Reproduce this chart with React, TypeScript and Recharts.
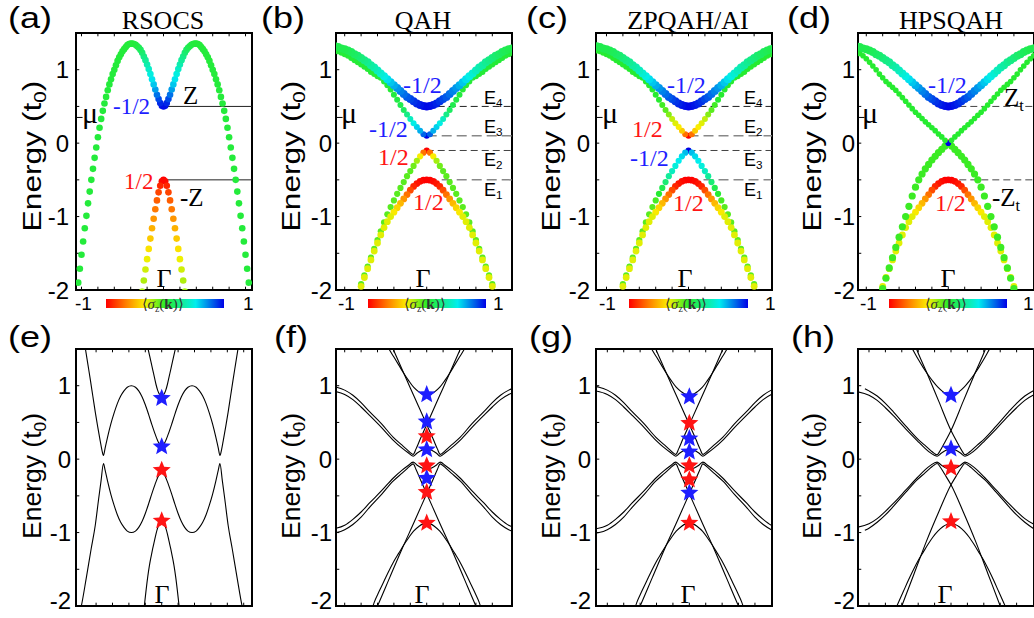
import { ComposedChart, Scatter, Line, XAxis, YAxis, ReferenceLine, ReferenceArea } from 'recharts'

// ---------- top row: spin-textured bands (dots), k grid from Gamma outwards ----------
const kA = [0, 0.02, 0.04, 0.06, 0.08, 0.1, 0.12, 0.14, 0.16, 0.18, 0.2, 0.22, 0.24, 0.26, 0.28, 0.3, 0.32, 0.34, 0.36, 0.38, 0.4, 0.42, 0.44, 0.46, 0.48, 0.5, 0.52, 0.54, 0.56, 0.58, 0.6, 0.62, 0.64, 0.66, 0.68, 0.7, 0.72, 0.74, 0.76, 0.78, 0.8, 0.82, 0.84, 0.86, 0.88, 0.9, 0.92, 0.94, 0.96, 0.98, 1, 1.02, 1.04, 1.06]
const kB = [0, 0.04, 0.08, 0.12, 0.16, 0.2, 0.24, 0.28, 0.32, 0.36, 0.4, 0.44, 0.48, 0.52, 0.56, 0.6, 0.64, 0.68, 0.72, 0.76, 0.8, 0.84, 0.88, 0.92, 0.96, 1, 1.04, 1.08, 1.12]

// (a) RSOCS
const aOuterE = [0.5, 0.51, 0.545, 0.6, 0.66, 0.73, 0.8, 0.87, 0.94, 1.01, 1.07, 1.13, 1.18, 1.23, 1.27, 1.3, 1.32, 1.34, 1.35, 1.355, 1.355, 1.35, 1.335, 1.31, 1.28, 1.25, 1.21, 1.17, 1.12, 1.06, 1.0, 0.94, 0.87, 0.8, 0.72, 0.63, 0.54, 0.44, 0.33, 0.21, 0.08, -0.06, -0.2, -0.35, -0.5, -0.66, -0.82, -0.99, -1.16, -1.34, -1.52, -1.71, -1.9, -2.1]
const aOuterS = [1, 0.97, 0.92, 0.85, 0.77, 0.68, 0.6, 0.54, 0.48, 0.42, 0.36, 0.3, 0.25, 0.2, 0.16, 0.13, 0.1, 0.08, 0.07, 0.06, 0.05]
const aInnerE = [-0.5, -0.52, -0.58, -0.67, -0.78, -0.9, -1.03, -1.16, -1.3, -1.44, -1.58, -1.72, -1.87, -2.02]
const aInnerS = [-1, -0.98, -0.9, -0.82, -0.75, -0.68, -0.6, -0.52, -0.45, -0.38, -0.32, -0.27, -0.22, -0.2]

// (b)(c)(d) shared band shapes
const u1E = [0.5, 0.505, 0.52, 0.54, 0.57, 0.6, 0.63, 0.67, 0.71, 0.75, 0.79, 0.83, 0.87, 0.91, 0.95, 0.99, 1.03, 1.06, 1.1, 1.13, 1.16, 1.19, 1.21, 1.24, 1.26, 1.28, 1.29, 1.31, 1.32]
const u1S = [1, 0.98, 0.96, 0.93, 0.9, 0.86, 0.82, 0.78, 0.74, 0.7, 0.65, 0.6, 0.55, 0.5, 0.45, 0.4, 0.36, 0.32, 0.28, 0.25, 0.22, 0.19, 0.16, 0.14, 0.12, 0.1]
const u2E = [0.1, 0.12, 0.17, 0.22, 0.27, 0.33, 0.39, 0.45, 0.52, 0.59, 0.66, 0.73, 0.79, 0.84, 0.89, 0.91, 0.94, 0.97, 1.01, 1.04, 1.07, 1.1, 1.13, 1.16, 1.19, 1.21, 1.23, 1.25, 1.26]
const l2E = [-0.1, -0.13, -0.18, -0.24, -0.31, -0.38, -0.45, -0.53, -0.61, -0.69, -0.78, -0.87, -0.97, -1.08, -1.2, -1.32, -1.44, -1.56, -1.68, -1.8, -1.92, -2.04]
const l1E = [-0.5, -0.505, -0.52, -0.55, -0.59, -0.64, -0.7, -0.76, -0.82, -0.88, -0.94, -1.0, -1.07, -1.15, -1.25, -1.36, -1.47, -1.59, -1.71, -1.83, -1.95, -2.07]
const l1S = [-1, -1, -0.98, -0.95, -0.9, -0.8, -0.7, -0.6, -0.5, -0.42, -0.36, -0.3]
const bU2S = [1, 0.8, 0.65, 0.58, 0.5, 0.4, 0.25, 0.15, 0.1, 0.08, 0.06, 0.04]
const bL2S = [-1, -0.7, -0.35, -0.2, -0.12, -0.08]
const cU2S = [-1, -0.7, -0.45, -0.35, -0.3, -0.25, -0.15, -0.08, -0.04, 0.02]
const cL2S = [1, 0.62, 0.56, 0.52, 0.47, 0.4, 0.3, 0.2, 0.1, 0.03, -0.05, -0.08]
const dU2E = [0, 0.04, 0.085, 0.125, 0.17, 0.21, 0.25, 0.29, 0.335, 0.38, 0.42, 0.47, 0.52, 0.57, 0.62, 0.67, 0.72, 0.76, 0.8, 0.84, 0.89, 0.94, 1.0, 1.05, 1.1, 1.15, 1.19, 1.22, 1.25]
const dU2S = [1, 0.02]
const dL2E = [0, -0.04, -0.085, -0.13, -0.18, -0.23, -0.29, -0.35, -0.42, -0.5, -0.6, -0.72, -0.86, -1.0, -1.14, -1.28, -1.42, -1.56, -1.7, -1.84, -1.98, -2.12]
const dL2S = [-1, -0.03]

// ---------- bottom row: ribbon spectra (k, E), half curves are mirrored about Gamma ----------
const eUpHalf = [[-0.94, 1.57], [-0.93, 1.5], [-0.9, 1.29], [-0.87, 1.08], [-0.84, 0.86], [-0.81, 0.64], [-0.78, 0.44], [-0.75, 0.25], [-0.73, 0.13], [-0.71, 0.05], [-0.69, 0.15], [-0.66, 0.3], [-0.62, 0.48], [-0.58, 0.63], [-0.54, 0.76], [-0.5, 0.86], [-0.46, 0.93], [-0.42, 0.98], [-0.37, 1.0], [-0.32, 0.98], [-0.28, 0.93], [-0.24, 0.85], [-0.2, 0.74], [-0.16, 0.61], [-0.12, 0.47], [-0.08, 0.34], [-0.04, 0.23], [0, 0.18]]
const eUHalf = [[-0.17, 1.52], [-0.15, 1.42], [-0.13, 1.32], [-0.11, 1.22], [-0.09, 1.12], [-0.07, 1.02], [-0.05, 0.94], [-0.03, 0.89], [0, 0.87]]
const eLowHalf = [[-0.99, -2.05], [-0.98, -2.0], [-0.92, -1.62], [-0.86, -1.22], [-0.81, -0.9], [-0.77, -0.55], [-0.74, -0.3], [-0.71, -0.06], [-0.69, -0.15], [-0.66, -0.3], [-0.62, -0.48], [-0.58, -0.63], [-0.54, -0.76], [-0.5, -0.86], [-0.46, -0.93], [-0.42, -0.98], [-0.37, -1.0], [-0.32, -0.98], [-0.28, -0.93], [-0.24, -0.85], [-0.2, -0.74], [-0.16, -0.61], [-0.12, -0.47], [-0.08, -0.34], [-0.04, -0.23], [0, -0.18]]
const eLUHalf = [[-0.22, -2.08], [-0.21, -1.98], [-0.19, -1.78], [-0.17, -1.6], [-0.15, -1.45], [-0.13, -1.33], [-0.11, -1.22], [-0.09, -1.12], [-0.07, -1.02], [-0.05, -0.94], [-0.03, -0.89], [0, -0.87]]

const fUHalf = [[-0.48, 1.54], [-0.46, 1.5], [-0.4, 1.39], [-0.34, 1.28], [-0.28, 1.17], [-0.22, 1.07], [-0.16, 0.98], [-0.1, 0.92], [-0.05, 0.885], [0, 0.875]]
const fX = [[-0.43, 1.55], [-0.41, 1.5], [-0.3, 1.22], [-0.2, 0.97], [-0.1, 0.72], [0, 0.47], [0.08, 0.27], [0.13, 0.14], [0.165, 0.065], [0.19, 0.08], [0.23, 0.12], [0.3, 0.19], [0.41, 0.3], [0.55, 0.48], [0.7, 0.65], [0.8, 0.77], [0.9, 0.87], [1.0, 0.94], [1.1, 0.98], [1.15, 0.99]]
const fCHalf = [[-1.15, 0.93], [-1.0, 0.88], [-0.9, 0.81], [-0.8, 0.71], [-0.7, 0.6], [-0.55, 0.43], [-0.41, 0.26], [-0.3, 0.15], [-0.23, 0.09], [-0.165, 0.04], [-0.12, 0.08], [-0.06, 0.12], [0, 0.14]]
const fULHalf = [[-0.67, -2.05], [-0.64, -1.95], [-0.58, -1.8], [-0.52, -1.66], [-0.46, -1.52], [-0.4, -1.39], [-0.34, -1.28], [-0.28, -1.17], [-0.22, -1.07], [-0.16, -0.98], [-0.1, -0.92], [-0.05, -0.885], [0, -0.875]]
const fXL = [[-0.62, -2.05], [-0.6, -2.0], [-0.45, -1.61], [-0.3, -1.22], [-0.15, -0.85], [0, -0.47], [0.08, -0.27], [0.13, -0.14], [0.165, -0.065], [0.19, -0.08], [0.23, -0.12], [0.3, -0.19], [0.41, -0.3], [0.55, -0.48], [0.7, -0.66], [0.8, -0.79], [0.9, -0.89], [1.0, -0.96], [1.1, -1.0], [1.15, -1.01]]
const fCLHalf = [[-1.15, -0.95], [-1.0, -0.9], [-0.9, -0.82], [-0.8, -0.72], [-0.7, -0.6], [-0.55, -0.43], [-0.41, -0.26], [-0.3, -0.15], [-0.23, -0.09], [-0.165, -0.04], [-0.12, -0.08], [-0.06, -0.12], [0, -0.14]]

const hUHalf = [[-0.49, 1.54], [-0.47, 1.5], [-0.4, 1.36], [-0.34, 1.25], [-0.28, 1.15], [-0.22, 1.06], [-0.16, 0.98], [-0.1, 0.92], [-0.05, 0.89], [0, 0.88]]
const hX = [[-0.44, 1.56], [-0.42, 1.5], [-0.3, 1.19], [-0.15, 0.79], [0, 0.39], [0.08, 0.22], [0.13, 0.12], [0.17, 0.06], [0.2, 0.075], [0.25, 0.12], [0.32, 0.19], [0.41, 0.28], [0.55, 0.45], [0.7, 0.64], [0.8, 0.76], [0.9, 0.86], [1.0, 0.93], [1.05, 0.96]]
const hCHalf = [[-1.15, 0.92], [-1.0, 0.87], [-0.9, 0.8], [-0.8, 0.7], [-0.7, 0.59], [-0.55, 0.41], [-0.41, 0.25], [-0.32, 0.15], [-0.25, 0.085], [-0.17, 0.04], [-0.12, 0.08], [-0.06, 0.12], [0, 0.14]]
const hULHalf = [[-0.68, -2.05], [-0.66, -2.0], [-0.58, -1.8], [-0.52, -1.65], [-0.46, -1.51], [-0.4, -1.38], [-0.34, -1.27], [-0.28, -1.16], [-0.22, -1.06], [-0.16, -0.98], [-0.1, -0.92], [-0.05, -0.89], [0, -0.88]]
const hXL = [[-0.62, -2.06], [-0.6, -2.0], [-0.45, -1.56], [-0.3, -1.12], [-0.15, -0.72], [0, -0.35], [0.08, -0.2], [0.13, -0.11], [0.17, -0.06], [0.2, -0.075], [0.25, -0.12], [0.32, -0.19], [0.41, -0.28], [0.55, -0.45], [0.7, -0.64], [0.8, -0.76], [0.9, -0.86], [1.0, -0.94], [1.05, -0.97]]
const hCLHalf = [[-1.15, -0.93], [-1.0, -0.88], [-0.9, -0.81], [-0.8, -0.71], [-0.7, -0.6], [-0.55, -0.42], [-0.41, -0.25], [-0.32, -0.15], [-0.25, -0.085], [-0.17, -0.04], [-0.12, -0.08], [-0.06, -0.12], [0, -0.14]]

// stars at Gamma
const eBlue = [0.83, 0.17], eRed = [-0.15, -0.84]
const fBlue = [0.88, 0.51, 0.13, -0.26], fRed = [0.31, -0.09, -0.45, -0.87]
const gBlue = [0.85, 0.28, 0.1, -0.46], gRed = [0.49, -0.09, -0.28, -0.87]
const hBlue = [0.87, 0.14], hRed = [-0.12, -0.85]

const yTicks = [-2, -1, 0, 1]
const yMinor = [-1.5, -1, -0.5, 0, 0.5, 1]
const kMinor = [-1, -0.8, -0.6, -0.4, -0.2, 0, 0.2, 0.4, 0.6, 0.8, 1]

const SANS = '"Liberation Sans", Arial, sans-serif'
const SERIF = '"Liberation Serif", "Times New Roman", serif'
const BLUE = '#1e1eff'
const RED = '#ff1414'

const sigmaStops: [number, number[]][] = [
  [0, [255, 0, 0]], [0.17, [255, 128, 0]], [0.33, [250, 240, 0]], [0.5, [40, 235, 40]], [0.76, [0, 238, 238]], [1, [0, 0, 230]],
]
function sigmaColor(s: number) {
  const t = Math.max(0, Math.min(1, (s + 1) / 2))
  for (let i = 1; i < sigmaStops.length; i++) {
    const [t0, c0] = sigmaStops[i - 1]
    const [t1, c1] = sigmaStops[i]
    if (t <= t1) {
      const f = (t - t0) / (t1 - t0)
      return `rgb(${c0.map((c, j) => Math.round(c + (c1[j] - c) * f)).join(',')})`
    }
  }
  return 'rgb(0,0,230)'
}
const barGradient = `linear-gradient(to right, ${sigmaStops.map(([t, c]) => `rgb(${c.join(',')}) ${t * 100}%`).join(', ')})`

function band(kg: number[], E: number[], S: number[]) {
  const out: { k: number; E: number; s: number }[] = []
  E.forEach((e, i) => {
    const s = S[Math.min(i, S.length - 1)]
    out.push({ k: -kg[i], E: e, s })
    if (i > 0) out.push({ k: kg[i], E: e, s })
  })
  return out
}
const sym = (half: number[][]) => [...half, ...half.slice(0, -1).reverse().map(([k, e]) => [-k, e])]
const flip = (pts: number[][]) => pts.map(([k, e]) => [-k, e]).reverse()

function starPath(cx: number, cy: number, R: number, r: number) {
  let d = ''
  for (let i = 0; i < 10; i++) {
    const a = -Math.PI / 2 + (i * Math.PI) / 5
    const rad = i % 2 === 0 ? R : r
    d += (i ? 'L' : 'M') + (cx + rad * Math.cos(a)).toFixed(2) + ' ' + (cy + rad * Math.sin(a)).toFixed(2)
  }
  return d + 'Z'
}

const dots = (pts: { k: number; E: number; s: number }[], r: number, key: string) => (
  <Scatter key={key} data={pts} isAnimationActive={false}
    shape={(p: any) => <circle cx={p.cx} cy={p.cy} r={r} fill={sigmaColor(p.payload?.s ?? 0)} />} />
)
const stars = (vals: number[], color: string, key: string) => (
  <Scatter key={key} data={vals.map((E) => ({ k: 0, E }))} isAnimationActive={false}
    shape={(p: any) => <path d={starPath(p.cx, p.cy, 9.5, 4.2)} fill={color} />} />
)
const curve = (pts: number[][], key: string) => (
  <Line key={key} data={pts.map(([k, E]) => ({ k, E }))} dataKey="E" type="monotone" stroke="#000"
    strokeWidth={1.1} dot={false} activeDot={false} isAnimationActive={false} />
)
const hline = (y: number, x0: number, x1: number, key: string, dashed: string | undefined, color = '#333', w = 1) => (
  <ReferenceLine key={key} segment={[{ x: x0, y }, { x: x1, y }]} stroke={color} strokeWidth={w} strokeDasharray={dashed} ifOverflow="visible" />
)

function Panel({ x, y, dom, gap, lift = 0, children }: { x: number; y: number; dom: [number, number]; gap: number; lift?: number; children: any }) {
  const minor = kMinor.filter((v) => v > dom[0] + 0.05 && v < dom[1] - 0.05)
  const tick = (p: any) => (
    <text x={p.x} y={p.y + 8.5 - (p.payload.value === -2 ? lift : 0)} textAnchor="end" fontSize={24} fontFamily={SANS} fill="#000">
      {p.payload.value}
    </text>
  )
  return (
    <div style={{ position: 'absolute', left: x - 70, top: y - 40 }}>
      <ComposedChart width={256} height={317} margin={{ top: 40, right: 10, bottom: 20, left: 10 }}>
        <XAxis dataKey="k" type="number" domain={dom} allowDataOverflow height={0} tick={false} tickLine={false} axisLine={false} />
        <YAxis dataKey="E" type="number" domain={[-2, 1.5]} allowDataOverflow width={60} ticks={yTicks} interval={0}
          tickLine={false} tickSize={0} tickMargin={gap} axisLine={false} tick={tick} />
        {minor.map((v) => (
          <ReferenceLine key={'tb' + v} segment={[{ x: v, y: -2 }, { x: v, y: -1.955 }]} stroke="#000" ifOverflow="visible" />
        ))}
        {minor.map((v) => (
          <ReferenceLine key={'tt' + v} segment={[{ x: v, y: 1.5 }, { x: v, y: 1.455 }]} stroke="#000" ifOverflow="visible" />
        ))}
        {yMinor.map((v) => (
          <ReferenceLine key={'tl' + v} segment={[{ x: dom[0], y: v }, { x: dom[0] + 0.04, y: v }]} stroke="#000" ifOverflow="visible" />
        ))}
        {children}
        <ReferenceArea x1={dom[0]} x2={dom[1]} y1={-2} y2={1.5} fill="none" stroke="#000" strokeWidth={2} ifOverflow="visible" />
      </ComposedChart>
    </div>
  )
}

const Sub = ({ children }: { children: any }) => (
  <span style={{ fontSize: '0.65em', position: 'relative', top: '0.28em' }}>{children}</span>
)
function Txt({ x, y, size = 24, font = SERIF, color = '#000', mid = false, stretch = 1, children }: any) {
  const tf = [mid ? 'translateX(-50%)' : '', stretch !== 1 ? `scaleX(${stretch})` : ''].join(' ').trim()
  return (
    <div style={{ position: 'absolute', left: x, top: y - 0.84 * size, fontSize: size, fontFamily: font, color, lineHeight: 1, whiteSpace: 'nowrap', transform: tf || undefined, transformOrigin: 'left top' }}>
      {children}
    </div>
  )
}
function EnergyLabel({ x, y, stretch }: { x: number; y: number; stretch: number }) {
  return (
    <div style={{ position: 'absolute', left: x, top: y, fontFamily: SANS, fontSize: 26, lineHeight: 1, whiteSpace: 'nowrap', transform: `translate(-50%,-50%) rotate(-90deg) scaleX(${stretch})` }}>
      Energy (t<Sub>0</Sub>)
    </div>
  )
}
function ColorBar({ x0, x1, l1, r1 }: { x0: number; x1: number; l1: number; r1: number }) {
  return (
    <>
      <div style={{ position: 'absolute', left: x0, top: 299, width: x1 - x0, height: 9, background: barGradient }} />
      <Txt x={x0 + 0.48 * (x1 - x0)} y={310} size={15} mid color="#333">
        ⟨<i>σ</i><Sub>z</Sub>(<b>k</b>)⟩
      </Txt>
      <Txt x={l1} y={310} size={19} font={SANS}>-1</Txt>
      <Txt x={r1} y={310} size={19} font={SANS}>1</Txt>
    </>
  )
}

const domA: [number, number] = [-1.067, 1.079]
const domB: [number, number] = [-1.106, 1.04]
const domC: [number, number] = [-1.128, 1.018]
const domD: [number, number] = [-1.101, 1.045]
const domE: [number, number] = [-1.045, 1.101]
const domF: [number, number] = [-1.106, 1.04]
const domG: [number, number] = [-1.138, 1.008]
const domH: [number, number] = [-1.134, 1.012]

const muTick = (dom: [number, number]) => hline(0.35, dom[0], dom[0] + 0.08, 'mu', undefined, '#000', 1)

export default function App() {
  return (
    <div style={{ position: 'absolute', left: 0, top: 0, width: 1034, height: 618, background: '#fff', overflow: 'hidden' }}>
      {/* (a) */}
      <Panel x={76} y={33} dom={domA} gap={7}>
        {hline(0.5, 0, domA[1], 'z1', undefined, '#222', 1)}
        {hline(-0.5, 0, domA[1], 'z2', undefined, '#222', 1)}
        {muTick(domA)}
        {dots(band(kA, aOuterE, aOuterS), 3.3, 'ao')}
        {dots(band(kA, aInnerE, aInnerS), 3.3, 'ai')}
      </Panel>
      {/* (b) */}
      <Panel x={336} y={33} dom={domB} gap={4}>
        {hline(0.5, 0, domB[1], 'e4', '7 4', '#222')}
        {hline(0.1, 0, domB[1], 'e3', '10 5', '#888', 1.5)}
        {hline(-0.1, 0, domB[1], 'e2', '7 4', '#444')}
        {hline(-0.5, 0, domB[1], 'e1', '10 5', '#888', 1.5)}
        {muTick(domB)}
        {dots(band(kB, u2E, bU2S), 3, 'u2')}
        {dots(band(kB, u1E, u1S), 4, 'u1')}
        {dots(band(kB, l2E, bL2S), 3.1, 'l2')}
        {dots(band(kB, l1E, l1S), 3.4, 'l1')}
      </Panel>
      {/* (c) */}
      <Panel x={596} y={33} dom={domC} gap={6}>
        {hline(0.5, 0, domC[1], 'e4', '7 4', '#222')}
        {hline(0.1, 0, domC[1], 'e2', '10 5', '#888', 1.5)}
        {hline(-0.1, 0, domC[1], 'e3', '7 4', '#444')}
        {hline(-0.5, 0, domC[1], 'e1', '10 5', '#888', 1.5)}
        {muTick(domC)}
        {dots(band(kB, u2E, cU2S), 3, 'u2')}
        {dots(band(kB, u1E, u1S), 4, 'u1')}
        {dots(band(kB, l2E, cL2S), 3.1, 'l2')}
        {dots(band(kB, l1E, l1S), 3.4, 'l1')}
      </Panel>
      {/* (d) */}
      <Panel x={858} y={33} dom={domD} gap={3}>
        {hline(0.5, 0, domD[1], 'zt', '7 4', '#444')}
        {hline(-0.5, 0, domD[1], 'mzt', '7 4', '#444')}
        {muTick(domD)}
        {dots(band(kB, l1E, l1S), 3.4, 'l1')}
        {dots(band(kB, dL2E, dL2S), 3.6, 'l2')}
        {dots(band(kB, dU2E, dU2S), 2.8, 'u2')}
        {dots(band(kB, u1E, u1S), 4, 'u1')}
      </Panel>

      {/* (e) */}
      <Panel x={76} y={349} dom={domE} gap={5} lift={6}>
        {curve(sym(eUpHalf), 'c1')}
        {curve(sym(eUHalf), 'c2')}
        {curve(sym(eLowHalf), 'c3')}
        {curve(sym(eLUHalf), 'c4')}
        {stars(eBlue, BLUE, 'sb')}
        {stars(eRed, RED, 'sr')}
      </Panel>
      {/* (f) */}
      <Panel x={336} y={349} dom={domF} gap={4} lift={6}>
        {curve(sym(fUHalf), 'c1')}
        {curve(fX, 'c2')}
        {curve(flip(fX), 'c3')}
        {curve(sym(fCHalf), 'c4')}
        {curve(sym(fULHalf), 'c5')}
        {curve(fXL, 'c6')}
        {curve(flip(fXL), 'c7')}
        {curve(sym(fCLHalf), 'c8')}
        {stars(fBlue, BLUE, 'sb')}
        {stars(fRed, RED, 'sr')}
      </Panel>
      {/* (g) */}
      <Panel x={596} y={349} dom={domG} gap={5} lift={6}>
        {curve(sym(fUHalf), 'c1')}
        {curve(fX, 'c2')}
        {curve(flip(fX), 'c3')}
        {curve(sym(fCHalf), 'c4')}
        {curve(sym(fULHalf), 'c5')}
        {curve(fXL, 'c6')}
        {curve(flip(fXL), 'c7')}
        {curve(sym(fCLHalf), 'c8')}
        {stars(gBlue, BLUE, 'sb')}
        {stars(gRed, RED, 'sr')}
      </Panel>
      {/* (h) */}
      <Panel x={858} y={349} dom={domH} gap={3} lift={6}>
        {curve(sym(hUHalf), 'c1')}
        {curve(hX, 'c2')}
        {curve(flip(hX), 'c3')}
        {curve(sym(hCHalf), 'c4')}
        {curve(sym(hULHalf), 'c5')}
        {curve(hXL, 'c6')}
        {curve(flip(hXL), 'c7')}
        {curve(sym(hCLHalf), 'c8')}
        {stars(hBlue, BLUE, 'sb')}
        {stars(hRed, RED, 'sr')}
      </Panel>

      {/* panel letters */}
      <Txt x={8} y={28} size={30} font={SANS} stretch={1.2}>(a)</Txt>
      <Txt x={261} y={28} size={30} font={SANS} stretch={1.2}>(b)</Txt>
      <Txt x={526} y={28} size={30} font={SANS} stretch={1.2}>(c)</Txt>
      <Txt x={787} y={28} size={30} font={SANS} stretch={1.2}>(d)</Txt>
      <Txt x={8} y={347} size={30} font={SANS} stretch={1.2}>(e)</Txt>
      <Txt x={274} y={347} size={30} font={SANS} stretch={1.2}>(f)</Txt>
      <Txt x={529} y={347} size={30} font={SANS} stretch={1.2}>(g)</Txt>
      <Txt x={791} y={347} size={30} font={SANS} stretch={1.2}>(h)</Txt>

      {/* titles */}
      <Txt x={163} y={30} size={26} mid>RSOCS</Txt>
      <Txt x={423} y={30} size={26} mid>QAH</Txt>
      <Txt x={688} y={30} size={26} mid>ZPQAH/AI</Txt>
      <Txt x={951} y={30} size={26} mid>HPSQAH</Txt>

      {/* y labels */}
      <EnergyLabel x={32} y={156} stretch={1.22} />
      <EnergyLabel x={291} y={156} stretch={1.22} />
      <EnergyLabel x={551} y={156} stretch={1.22} />
      <EnergyLabel x={812} y={156} stretch={1.22} />
      <EnergyLabel x={32} y={476} stretch={1.02} />
      <EnergyLabel x={291} y={476} stretch={1.02} />
      <EnergyLabel x={551} y={476} stretch={1.02} />
      <EnergyLabel x={812} y={476} stretch={1.02} />

      {/* colour bars */}
      <ColorBar x0={106} x1={224} l1={75} r1={243} />
      <ColorBar x0={368} x1={486} l1={338} r1={493} />
      <ColorBar x0={629} x1={748} l1={599} r1={765} />
      <ColorBar x0={889} x1={1007} l1={860} r1={1023} />

      {/* Gamma and mu */}
      {[164, 423, 685, 948].map((x) => <Txt key={'gt' + x} x={x} y={288} size={26} mid>Γ</Txt>)}
      {[162, 422, 688, 945].map((x) => <Txt key={'gb' + x} x={x} y={604} size={26} mid>Γ</Txt>)}
      {[82, 341, 602, 862].map((x) => <Txt key={'mu' + x} x={x} y={123} size={30}>μ</Txt>)}

      {/* (a) labels */}
      <Txt x={113} y={114} size={23} color={BLUE}>-1/2</Txt>
      <Txt x={124} y={189} size={23} color={RED}>1/2</Txt>
      <Txt x={183} y={104} size={25}>Z</Txt>
      <Txt x={180} y={206} size={25}>-Z</Txt>
      {/* (b) labels */}
      <Txt x={403} y={93} color={BLUE}>-1/2</Txt>
      <Txt x={369} y={137} color={BLUE}>-1/2</Txt>
      <Txt x={378} y={165} color={RED}>1/2</Txt>
      <Txt x={413} y={210} color={RED}>1/2</Txt>
      <Txt x={484} y={104} size={18} font={SANS}>E<Sub>4</Sub></Txt>
      <Txt x={484} y={133} size={18} font={SANS}>E<Sub>3</Sub></Txt>
      <Txt x={484} y={166} size={18} font={SANS}>E<Sub>2</Sub></Txt>
      <Txt x={484} y={196} size={18} font={SANS}>E<Sub>1</Sub></Txt>
      {/* (c) labels */}
      <Txt x={667} y={93} color={BLUE}>-1/2</Txt>
      <Txt x={632} y={137} color={RED}>1/2</Txt>
      <Txt x={630} y={166} color={BLUE}>-1/2</Txt>
      <Txt x={673} y={211} color={RED}>1/2</Txt>
      <Txt x={744} y={104} size={18} font={SANS}>E<Sub>4</Sub></Txt>
      <Txt x={744} y={133} size={18} font={SANS}>E<Sub>2</Sub></Txt>
      <Txt x={744} y={166} size={18} font={SANS}>E<Sub>3</Sub></Txt>
      <Txt x={744} y={196} size={18} font={SANS}>E<Sub>1</Sub></Txt>
      {/* (d) labels */}
      <Txt x={928} y={93} color={BLUE}>-1/2</Txt>
      <Txt x={935} y={211} color={RED}>1/2</Txt>
      <Txt x={1004} y={106} size={25}>Z<Sub>t</Sub></Txt>
      <Txt x={992} y={206} size={25}>-Z<Sub>t</Sub></Txt>
    </div>
  )
}
